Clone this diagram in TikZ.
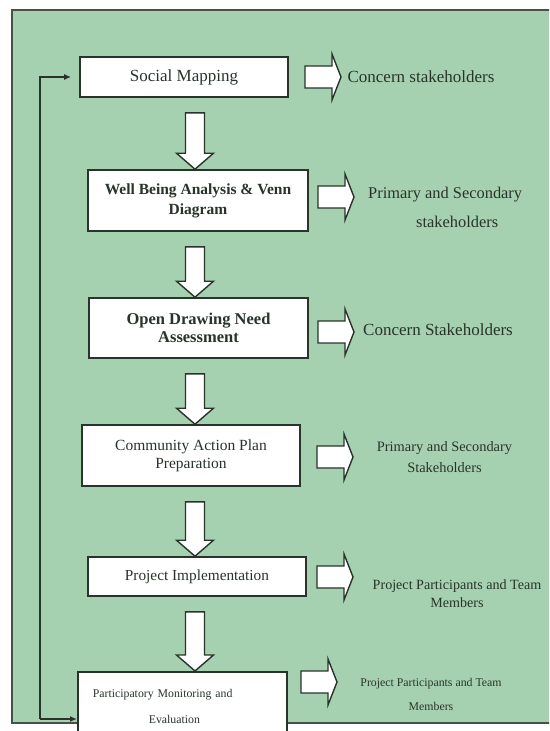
\documentclass[tikz,border=0pt]{standalone}
\usepackage{fontspec}
\setmainfont{Liberation Serif}
\usetikzlibrary{calc,arrows.meta}
\definecolor{bg}{RGB}{166,209,176}
\definecolor{ink}{RGB}{40,52,42}
\definecolor{framec}{RGB}{70,82,72}
\tikzset{
  box/.style={draw=ink, line width=1.6pt, fill=white, inner sep=0pt, text=ink, align=center},
  blk/.style={draw=ink, line width=1.4pt, fill=white, line join=miter},
  lbl/.style={text=ink, align=center, inner sep=0pt},
  fb/.style={draw=ink, line width=1.4pt},
}
\newcommand\dnarr[2]{%
  \draw[blk] let \p1=(#1.south), \p2=(#2.north) in
    (185.5pt,\y1-15pt) -- (204.5pt,\y1-15pt) -- (204.5pt,\y2+16pt) --
    (213.5pt,\y2+16pt) -- (195pt,\y2) -- (176.5pt,\y2+16pt) --
    (185.5pt,\y2+16pt) -- cycle;}
\newcommand\rarr[2]{%
  \draw[blk] (#1,#2-11) -- (#1+27,#2-11) -- (#1+27,#2-23) -- (#1+36,#2) --
    (#1+27,#2+23) -- (#1+27,#2+11) -- (#1,#2+11) -- cycle;}
\begin{document}
\begin{tikzpicture}[x=1pt,y=-1pt]
\useasboundingbox (0,0) rectangle (549,731);
\clip (0,0) rectangle (549,731);
\fill[white] (0,0) rectangle (549,731);
\draw[framec, line width=1.5pt, fill=bg] (12,10) rectangle (570,723);

% process boxes
\node[box, minimum width=208pt, minimum height=40pt, font=\fontsize{17}{20}\selectfont] (B1) at (184,77) {Social Mapping};
\node[box, minimum width=220pt, minimum height=61pt, font=\bfseries\fontsize{15.5}{20}\selectfont] (B2) at (198,200.5) {Well Being Analysis \& Venn\\Diagram};
\node[box, minimum width=219pt, minimum height=60pt, font=\bfseries\fontsize{16.5}{18}\selectfont] (B3) at (198.5,328) {Open Drawing Need\\Assessment};
\node[box, minimum width=218pt, minimum height=61pt, font=\fontsize{15.5}{18}\selectfont] (B4) at (191,455.5) {Community Action Plan\\Preparation};
\node[box, minimum width=218pt, minimum height=39pt, font=\fontsize{15.3}{18}\selectfont] (B5) at (197,576.5) {Project Implementation};
\node[box, anchor=north west, minimum width=209pt, minimum height=70pt, text width=179pt, inner xsep=15pt, align=left, font=\fontsize{11.8}{26}\selectfont] (B6) at (77,671) {Participatory Monitoring and\\\hspace*{56pt}Evaluation};

% down arrows
\dnarr{B1}{B2}
\dnarr{B2}{B3}
\dnarr{B3}{B4}
\dnarr{B4}{B5}
\dnarr{B5}{B6}

% right arrows
\rarr{305}{77}
\rarr{318}{197}
\rarr{318}{332}
\rarr{317}{457}
\rarr{317}{577}
\rarr{301}{682}

% stakeholder labels
\node[lbl, font=\fontsize{17}{20}\selectfont] (L1) at (421,77) {Concern stakeholders};
\node[lbl, anchor=west, align=left, font=\fontsize{16.4}{29}\selectfont] (L2) at (368,207.5) {Primary and Secondary\\\hspace*{48pt}stakeholders};
\node[lbl, font=\fontsize{17}{20}\selectfont] (L3) at (438,330) {Concern Stakeholders};
\node[lbl, font=\fontsize{14.4}{21}\selectfont] (L4) at (444.5,457.5) {Primary and Secondary\\Stakeholders};
\node[lbl, font=\fontsize{14.1}{18}\selectfont] (L5) at (457,594) {Project Participants and Team\\Members};
\node[lbl, font=\fontsize{11.8}{24}\selectfont] (L6) at (431,694) {Project Participants and Team\\Members};

% feedback loop
\coordinate (fbbot) at (40,719);
\coordinate (fbtop) at (40,77);
\draw[fb, -{Latex[length=7pt,width=6pt]}] (fbbot) -- (fbtop) -- ($(B1.west)+(-8,0)$);
\draw[fb, -{Latex[length=7pt,width=6pt]}] (fbbot) -- (fbbot -| B6.west);
\end{tikzpicture}
\end{document}
